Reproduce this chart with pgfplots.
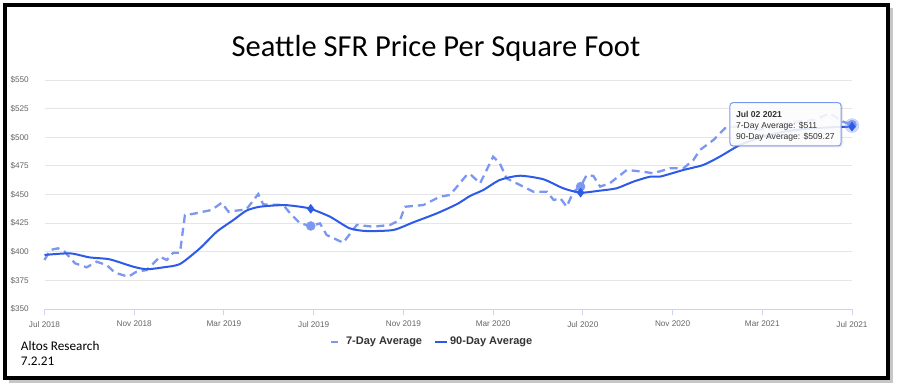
\documentclass[border=0pt]{standalone}
\usepackage{pgfplots}
\pgfplotsset{compat=1.18}
\usepackage{fontspec}
\setmainfont{Liberation Sans}
\newfontfamily\carlito{Carlito}
\definecolor{blueA}{RGB}{45,90,230}
\definecolor{blueB}{RGB}{124,151,240}
\definecolor{gridc}{RGB}{230,230,230}
\definecolor{axisc}{RGB}{204,214,235}
\definecolor{labc}{RGB}{102,102,102}
\definecolor{txt}{RGB}{51,51,51}

\pgfplotstableread{
m v
0 397.2
1.14 398.6
2.0 395.1
2.9 393.4
3.95 387
4.56 384.7
5.3 386.4
6.04 389.3
6.93 403
7.68 417.5
8.42 427.7
9.0 435.9
9.6 439.3
10.65 440.8
11.4 439.3
11.87 437.5
12.73 430.6
13.6 420.5
14.36 418.1
15.55 419
16.44 425.7
17.5 433.6
18.4 441.7
18.97 448.7
19.56 453.9
20.3 462.7
21.2 466.4
22.24 463.3
23.13 455.4
23.9 451.6
24.77 453.4
25.5 455.4
26.25 461.2
27.0 465.6
27.44 465.6
28.48 471.4
29.37 475.8
30.1 483
31.0 493.2
32.0 500.5
33.0 505
34.0 507.5
35.0 508.6
36.0 509.27
}\ninety

\pgfplotstableread{
m v
0 392.8
0.25 401.5
0.6 403
0.9 400
1.36 389.9
1.88 386.4
2.33 391.3
2.77 388.4
3.14 381.7
3.74 378.2
4.1 382.6
4.56 384
5.15 395.7
5.45 392.8
5.74 399.2
6.04 399.2
6.26 432.1
6.6 433
7.45 436.5
7.9 442.8
8.2 435
9.0 437
9.53 450.4
9.75 441.4
10.65 440.8
10.95 433.6
11.4 424.8
11.87 422.5
12.28 424.8
12.58 414.6
13.32 407.9
13.92 423.4
14.66 421.9
15.4 423.4
15.85 427.7
16.07 439.3
16.89 440.8
17.63 448.1
18.08 449.6
18.82 467
18.97 467.9
19.42 459.8
20.0 483
20.3 477.2
20.6 464.1
21.5 455.4
21.8 452.4
22.4 452.4
22.7 445.2
23.0 446.7
23.28 439.3
23.58 452.4
23.9 456.9
24.17 467
24.47 466.2
24.77 456.9
25.2 459.8
25.96 471.4
26.7 469.9
27.14 468.5
27.9 472.9
28.48 472.9
28.93 480.1
29.22 488.9
29.82 497.6
30.34 507.8
31.0 510
31.6 506
32.3 508
33.0 512
33.7 514
34.3 515
35.0 520.9
35.6 513.6
36.0 511
}\seven

\begin{document}
\begin{tikzpicture}[x=1pt,y=1pt]
\useasboundingbox (0,0) rectangle (898,389);
\fill[white] (0,0) rectangle (898,389);
\draw[black!22, line width=3pt] (9,7.5) -- (891.5,7.5) -- (891.5,381);
\draw[black, line width=4pt] (5,11) rectangle (888,384);

\node[anchor=base, font=\carlito\fontsize{30.5}{36}\selectfont] at (436,332.3) {Seattle SFR Price Per Square Foot};
\node[anchor=base west, inner sep=0pt, font=\carlito\fontsize{13.2}{15}\selectfont] at (20.7,39) {Altos Research};
\node[anchor=base west, inner sep=0pt, font=\carlito\fontsize{13.2}{15}\selectfont] at (20.7,24) {7.2.21};

\begin{axis}[at={(44.5pt,80pt)}, anchor=south west, scale only axis,
  width=807.5pt, height=229pt,
  xmin=0, xmax=36, ymin=350, ymax=550,
  axis lines*=left,
  y axis line style={draw=none},
  x axis line style={draw=axisc, line width=1pt},
  xtick={0,4,...,36},
  xticklabels={Jul 2018, Nov 2018, Mar 2019, Jul 2019, Nov 2019, Mar 2020, Jul 2020, Nov 2020, Mar 2021, Jul 2021},
  ytick={350,375,...,550},
  yticklabels={\$350,\$375,\$400,\$425,\$450,\$475,\$500,\$525,\$550},
  tick align=outside, major tick length=6pt,
  xtick style={draw=axisc, line width=1pt},
  ytick style={draw=none},
  ymajorgrids, grid style={gridc, line width=1pt},
  tick label style={font=\fontsize{8.2}{10}\selectfont, text=labc, inner sep=0pt},
  xticklabel style={anchor=north, yshift=-6pt},
  yticklabel style={anchor=east, xshift=-9.5pt},
  clip=false,
  legend style={at={(axis description cs:0.48,-0.143)}, anchor=center, draw=none, fill=none,
    legend columns=2, font=\bfseries\fontsize{11}{13}\selectfont, text=txt,
    /tikz/every even column/.append style={column sep=10pt}},
  legend cell align=left,
]
\addplot[blueB, line width=2.3pt, dash pattern=on 8pt off 5pt,
  legend image code/.code={\draw[blueB, line width=2pt] (0pt,0pt) -- (7pt,0pt); \path (12pt,0pt);}]
  table[x=m, y=v] {\seven};
\addlegendentry{7-Day Average}
\addplot[blueA, line width=2pt, smooth, tension=0.4,
  legend image code/.code={\draw[blueA, line width=2pt] (2pt,0pt) -- (14pt,0pt);}]
  table[x=m, y=v] {\ninety};
\addlegendentry{90-Day Average}

\addplot[only marks, mark=*, mark size=7pt, blueB, opacity=0.35, forget plot] coordinates {(36,510.2)};
\addplot[only marks, mark=*, mark size=4.5pt, blueB, forget plot] coordinates {(11.87,422.5) (23.9,456.9) (36,511)};
\addplot[only marks, mark=diamond*, mark size=4.5pt, blueA, forget plot] coordinates {(11.87,437.5) (23.9,451.6) (36,509.27)};

\fill[black, opacity=0.08, rounded corners=3pt] (axis cs:30.62,529.4) rectangle (axis cs:35.6,491.2);
\fill[white, opacity=0.88, rounded corners=3pt] (axis cs:30.56,530.2) rectangle (axis cs:35.51,492.4);
\draw[blueB, line width=1pt, rounded corners=3pt] (axis cs:30.56,530.2) rectangle (axis cs:35.51,492.4);
\node[anchor=base west, inner sep=0pt, text=txt, font=\bfseries\fontsize{8.6}{10}\selectfont] at (axis cs:30.82,517.2) {Jul 02 2021};
\node[anchor=base west, inner sep=0pt, text=txt, font=\fontsize{8.6}{10}\selectfont] at (axis cs:30.82,507.5) {7-Day Average: \$511};
\node[anchor=base west, inner sep=0pt, text=txt, font=\fontsize{8.6}{10}\selectfont] at (axis cs:30.82,497.6) {90-Day Average: \$509.27};
\end{axis}
\end{tikzpicture}
\end{document}
